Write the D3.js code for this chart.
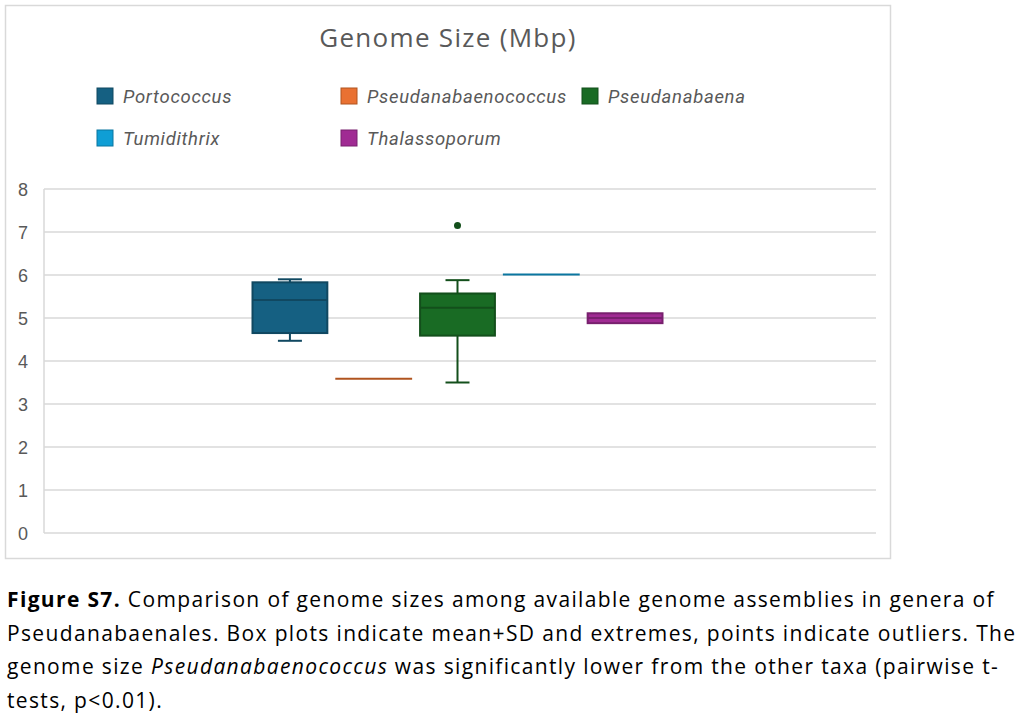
<!DOCTYPE html>
<html>
<head>
<meta charset="utf-8">
<script src="https://cdn.jsdelivr.net/npm/d3@7"></script>
<style>
  body { margin: 0; background: #fff; }
  svg { display: block; }
</style>
</head>
<body>
<svg id="chart" width="1026" height="716"></svg>
<script>
// genera, one box per genus
const genera = ["Portococcus", "Pseudanabaenococcus", "Pseudanabaena", "Tumidithrix", "Thalassoporum"];
const fills = ["#156082", "#e97132", "#196b24", "#0f9ed5", "#a02b93"];
const strokes = ["#104861", "#b0541f", "#134f1b", "#0b76a0", "#78206e"];

// genome size stats (Mbp)
const whiskerLow = [4.47, 3.59, 3.50, 6.01, 4.88];
const q1 = [4.65, 3.59, 4.59, 6.01, 4.88];
const median = [5.42, 3.59, 5.24, 6.01, 5.00];
const q3 = [5.83, 3.59, 5.57, 6.01, 5.11];
const whiskerHigh = [5.90, 3.59, 5.88, 6.01, 5.11];
const outliers = [[], [], [7.15], [], []];

const yTicks = [0, 1, 2, 3, 4, 5, 6, 7, 8];

const caption = [
  [{ t: "Figure S7.", b: true }, { t: " Comparison of genome sizes among available genome assemblies in genera of" }],
  [{ t: "Pseudanabaenales. Box plots indicate mean+SD and extremes, points indicate outliers. The" }],
  [{ t: "genome size " }, { t: "Pseudanabaenococcus", i: true }, { t: " was significantly lower from the other taxa (pairwise t-" }],
  [{ t: "tests, p<0.01)." }]
];

const svg = d3.select("#chart");
const grey = "#595959";

// chart frame
svg.append("rect")
  .attr("x", 5.5).attr("y", 5.5)
  .attr("width", 885).attr("height", 553)
  .attr("fill", "#fff").attr("stroke", "#d9d9d9").attr("stroke-width", 1.5);

svg.append("text")
  .attr("x", 448).attr("y", 47)
  .attr("text-anchor", "middle")
  .style("font-family", "'Open Sans', sans-serif")
  .style("font-size", "26px")
  .style("letter-spacing", "1.3px")
  .style("fill", grey)
  .text("Genome Size (Mbp)");

// legend
const legendPos = [[97, 96], [341, 96], [582, 96], [97, 138], [341, 138]];
const legend = svg.append("g").selectAll("g").data(genera).enter().append("g")
  .attr("transform", (d, i) => `translate(${legendPos[i][0]},${legendPos[i][1]})`);
legend.append("rect")
  .attr("x", 0).attr("y", -8).attr("width", 16).attr("height", 16)
  .attr("fill", (d, i) => fills[i])
  .attr("stroke", (d, i) => strokes[i]).attr("stroke-width", 1);
legend.append("text")
  .attr("x", 26).attr("y", 7)
  .style("font-family", "Roboto, sans-serif")
  .style("font-style", "italic")
  .style("font-size", "18.5px")
  .style("letter-spacing", "0.7px")
  .style("fill", grey)
  .text(d => d);

// scales
const y = d3.scaleLinear().domain([0, 8]).range([533, 189]);
const x = d3.scaleBand().domain(genera).range([251.5, 663.5]).paddingInner(0.083);

// gridlines + axis line
svg.append("g").selectAll("line").data(yTicks).enter().append("line")
  .attr("x1", 44).attr("x2", 876)
  .attr("y1", d => y(d)).attr("y2", d => y(d))
  .attr("stroke", "#d9d9d9").attr("stroke-width", 1.5);
svg.append("line")
  .attr("x1", 44).attr("x2", 44).attr("y1", y(8)).attr("y2", y(0))
  .attr("stroke", "#d9d9d9").attr("stroke-width", 1.5);

svg.append("g").selectAll("text").data(yTicks).enter().append("text")
  .attr("x", 23).attr("y", d => y(d) + 6.5)
  .attr("text-anchor", "middle")
  .style("font-family", "'Liberation Sans', Arial, sans-serif")
  .style("font-size", "18px")
  .style("fill", grey)
  .text(d => d);

// boxes
const boxes = svg.append("g").selectAll("g").data(genera).enter().append("g");

boxes.each(function (g, i) {
  const sel = d3.select(this);
  const x0 = x(g), w = x.bandwidth(), cx = x0 + w / 2;
  const capW = 24;
  const flat = q3[i] - q1[i] < 0.01;

  if (whiskerHigh[i] > q3[i]) {
    sel.append("line").attr("x1", cx).attr("x2", cx)
      .attr("y1", y(q3[i])).attr("y2", y(whiskerHigh[i]))
      .attr("stroke", strokes[i]).attr("stroke-width", 2);
    sel.append("line").attr("x1", cx - capW / 2).attr("x2", cx + capW / 2)
      .attr("y1", y(whiskerHigh[i])).attr("y2", y(whiskerHigh[i]))
      .attr("stroke", strokes[i]).attr("stroke-width", 2);
  }
  if (whiskerLow[i] < q1[i]) {
    sel.append("line").attr("x1", cx).attr("x2", cx)
      .attr("y1", y(q1[i])).attr("y2", y(whiskerLow[i]))
      .attr("stroke", strokes[i]).attr("stroke-width", 2);
    sel.append("line").attr("x1", cx - capW / 2).attr("x2", cx + capW / 2)
      .attr("y1", y(whiskerLow[i])).attr("y2", y(whiskerLow[i]))
      .attr("stroke", strokes[i]).attr("stroke-width", 2);
  }

  if (flat) {
    sel.append("line").attr("x1", x0).attr("x2", x0 + w)
      .attr("y1", y(median[i])).attr("y2", y(median[i]))
      .attr("stroke", strokes[i]).attr("stroke-width", 2);
  } else {
    sel.append("rect")
      .attr("x", x0 + 1).attr("y", y(q3[i]))
      .attr("width", w - 2).attr("height", y(q1[i]) - y(q3[i]))
      .attr("fill", fills[i]).attr("stroke", strokes[i]).attr("stroke-width", 2);
    sel.append("line").attr("x1", x0 + 1).attr("x2", x0 + w - 1)
      .attr("y1", y(median[i])).attr("y2", y(median[i]))
      .attr("stroke", strokes[i]).attr("stroke-width", 2);
  }

  sel.selectAll("circle").data(outliers[i]).enter().append("circle")
    .attr("cx", cx).attr("cy", d => y(d)).attr("r", 3.5)
    .attr("fill", strokes[i]);
});

// caption
const cap = svg.append("g");
caption.forEach((line, li) => {
  const t = cap.append("text")
    .attr("x", 7).attr("y", 607 + li * 33.5)
    .style("font-family", "'Open Sans', sans-serif")
    .style("font-size", "21px")
    .style("letter-spacing", "1.35px")
    .style("fill", "#000");
  line.forEach(part => {
    t.append("tspan")
      .style("font-weight", part.b ? "bold" : null)
      .style("font-style", part.i ? "italic" : null)
      .text(part.t);
  });
});
</script>
</body>
</html>
